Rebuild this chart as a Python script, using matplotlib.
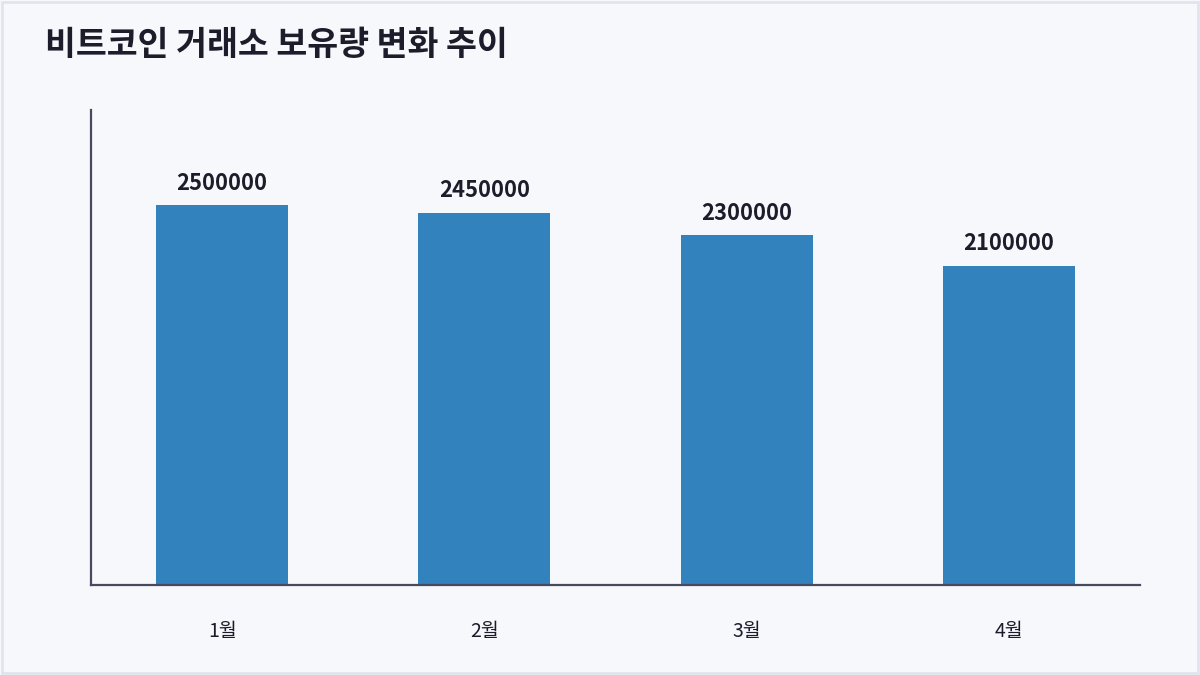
import matplotlib
matplotlib.use("Agg")
import matplotlib.pyplot as plt
from matplotlib.patches import Rectangle

plt.rcParams['font.family'] = ['Noto Sans CJK KR', 'DejaVu Sans']

# data
months = ["1월", "2월", "3월", "4월"]
holdings = [2500000, 2450000, 2300000, 2100000]
title = "비트코인 거래소 보유량 변화 추이"

bg = "#f6f8fc"
bar_color = "#3182bd"
axis_color = "#474a5e"
text_color = "#1c1c2b"

fig = plt.figure(figsize=(12, 6.75), dpi=100, facecolor=bg)
ax = fig.add_axes([91 / 1200, 1 - 585 / 675, (1140 - 91) / 1200, (585 - 110) / 675])
ax.set_facecolor(bg)

x = range(len(months))
bars = ax.bar(x, holdings, width=0.503, color=bar_color, zorder=2)
ax.set_xlim(-0.5, len(months) - 0.5)
ax.set_ylim(0, max(holdings) * 1.25)

for b, v in zip(bars, holdings):
    ax.annotate(f"{v}", (b.get_x() + b.get_width() / 2, v), xytext=(0, 7.5),
                textcoords="offset points", ha="center", va="bottom",
                fontsize=15.8, fontweight="bold", color=text_color)

ax.set_xticks(list(x))
ax.set_xticklabels(months, fontsize=14, color=text_color, fontweight="medium")
ax.tick_params(axis="x", length=0, pad=26)
ax.set_yticks([])

for s in ("top", "right"):
    ax.spines[s].set_visible(False)
for s in ("left", "bottom"):
    ax.spines[s].set_color(axis_color)
    ax.spines[s].set_linewidth(1.6)

fig.text(45 / 1200, 1 - 45 / 675, title, fontsize=24.2, fontweight="bold",
         color=text_color, ha="left", va="center")

# light frame round the card
fig.patches.append(Rectangle((0.002, 0.003), 0.996, 0.994, transform=fig.transFigure,
                             fill=False, edgecolor="#e1e4ec", linewidth=2))

fig.savefig("out.png", dpi=100, facecolor=bg)
